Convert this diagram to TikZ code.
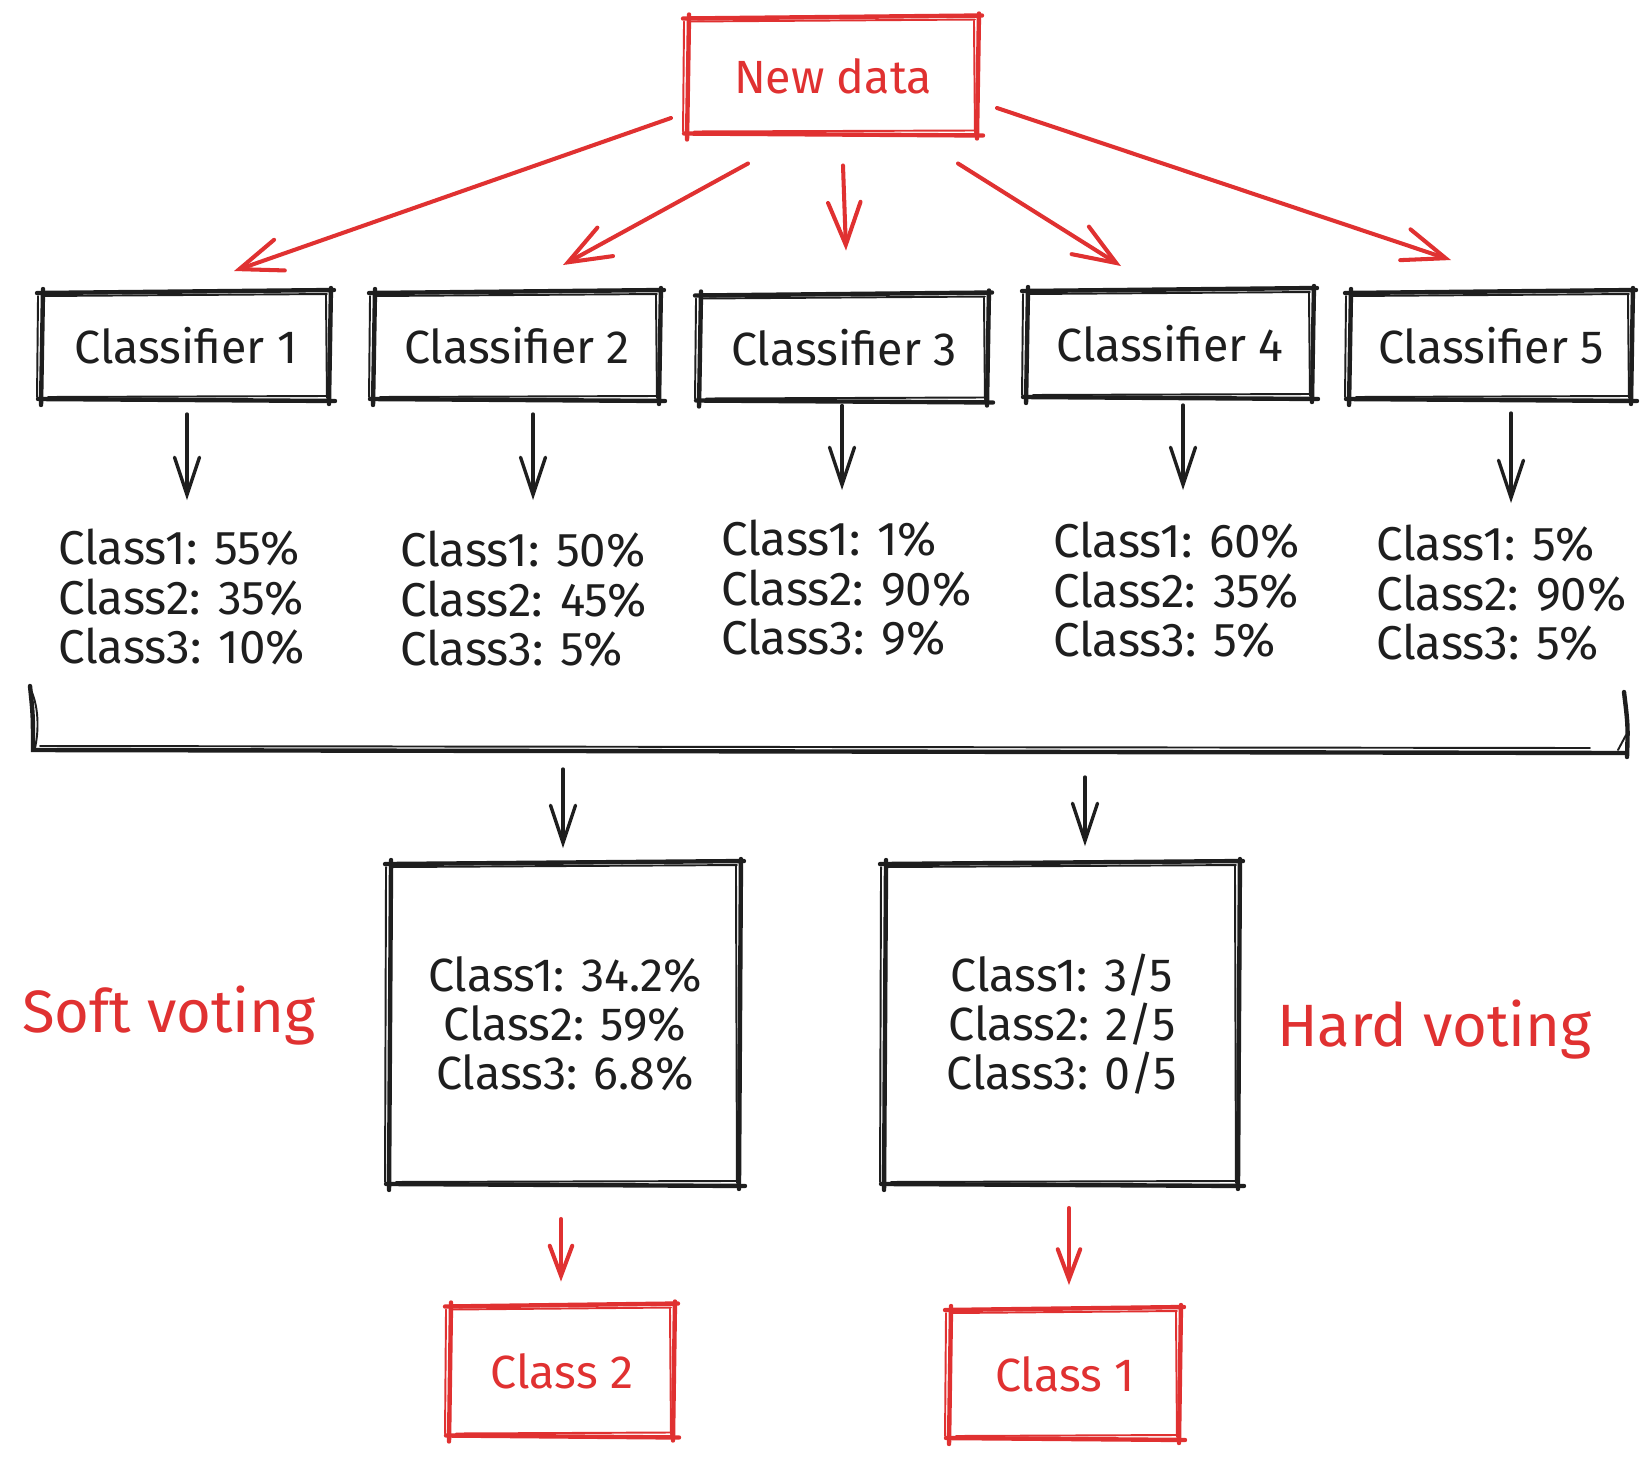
\documentclass[tikz,border=0pt]{standalone}
\usepackage{fontspec}
\setmainfont{Fira Sans}
\usetikzlibrary{arrows.meta,calc}
\definecolor{skred}{HTML}{E03131}
\definecolor{skblack}{HTML}{1E1E1E}
\newcommand{\skbox}[3]{% #1 node, #2 main style, #3 thin style
  \draw[#2] ([shift={(-5,1)}]#1.north west) -- ([shift={(4,-2)}]#1.north east);
  \draw[#2] ([shift={(1,-4)}]#1.north east) -- ([shift={(-1,4)}]#1.south east);
  \draw[#2] ([shift={(5,1)}]#1.south east) -- ([shift={(-4,-1)}]#1.south west);
  \draw[#2] ([shift={(-1,5)}]#1.south west) -- ([shift={(1,-3)}]#1.north west);
  \draw[#3] ([shift={(2,4)}]#1.north west) -- ([shift={(-3,2)}]#1.north east);
  \draw[#3] ([shift={(-4,3)}]#1.north east) -- ([shift={(-3,-2)}]#1.south east);
  \draw[#3] ([shift={(-2,-4)}]#1.south east) -- ([shift={(6,-3)}]#1.south west);
  \draw[#3] ([shift={(-5,-3)}]#1.south west) -- ([shift={(-4,4)}]#1.north west);
}
\begin{document}
\begin{tikzpicture}[x=0.02cm,y=-0.02cm,
  box/.style={rectangle, inner sep=0pt, outer sep=0pt, text=skblack, align=center,
    font=\fontsize{26.5}{27.9}\selectfont},
  rbox/.style={box, text=skred},
  probs/.style={inner sep=0pt, outer sep=0pt, text=skblack, align=left, anchor=west,
    font=\fontsize{27}{28.3}\selectfont},
  vlabel/.style={inner sep=0pt, text=skred, anchor=base west,
    font=\fontsize{34}{36}\selectfont},
  sk/.style={draw=skblack, line width=2.5pt, line cap=round},
  skt/.style={draw=skblack, line width=1.1pt, line cap=round},
  skr/.style={draw=skred, line width=2.5pt, line cap=round},
  skrt/.style={draw=skred, line width=1.1pt, line cap=round},
  barr/.style={draw=skblack, line width=1.9pt, line cap=round,
    -{Straight Barb[length=0.75cm,width=0.5cm,line cap=round]}},
  rarr/.style={draw=skred, line width=2.3pt, line cap=round,
    -{Straight Barb[length=0.85cm,width=0.65cm,line cap=round]}},
  rarrs/.style={draw=skred, line width=2.3pt, line cap=round,
    -{Straight Barb[length=0.6cm,width=0.45cm,line cap=round]}}
]
\useasboundingbox (0,0) rectangle (1651,1458);
\fill[white] (0,0) rectangle (1651,1458);

% top node
\node[rbox, minimum width=5.8cm, minimum height=2.34cm] (nd) at (833,76) {New data};
\skbox{nd}{skr}{skrt}

% classifiers
\node[box, minimum width=5.76cm, minimum height=2.16cm] (c1) at (186,346) {Classifier 1};
\node[box, minimum width=5.72cm, minimum height=2.16cm] (c2) at (517,346) {Classifier 2};
\node[box, minimum width=5.76cm, minimum height=2.14cm] (c3) at (844,348) {Classifier 3};
\node[box, minimum width=5.72cm, minimum height=2.16cm] (c4) at (1170,344) {Classifier 4};
\node[box, minimum width=5.64cm, minimum height=2.16cm] (c5) at (1491,346) {Classifier 5};
\foreach \n in {c1,c2,c3,c4,c5} {\skbox{\n}{sk}{skt}}

% red arrows from new data
\draw[rarr] ([shift={(-17,42)}]nd.west) -- ([shift={(48,-21)}]c1.north);
\draw[rarr] ([shift={(-85,29)}]nd.south) -- ([shift={(46,-27)}]c2.north);
\draw[rarr] ([shift={(10,31)}]nd.south) -- ([shift={(2,-44)}]c3.north);
\draw[rarr] ([shift={(125,29)}]nd.south) -- ([shift={(-49,-24)}]c4.north);
\draw[rarr] ([shift={(19,32)}]nd.east) -- ([shift={(-40,-32)}]c5.north);

% probabilities
\node[probs] (p1) at (58,597) {Class1: 55\%\\Class2: 35\%\\Class3: 10\%};
\node[probs] (p2) at (400,599) {Class1: 50\%\\Class2: 45\%\\Class3: 5\%};
\node[probs] (p3) at (721,588) {Class1: 1\%\\Class2: 90\%\\Class3: 9\%};
\node[probs] (p4) at (1053,590) {Class1: 60\%\\Class2: 35\%\\Class3: 5\%};
\node[probs] (p5) at (1376,593) {Class1: 5\%\\Class2: 90\%\\Class3: 5\%};

% arrows classifier -> probabilities
\coordinate (t1) at (187,500);
\coordinate (t2) at (533,500);
\coordinate (t3) at (842,490);
\coordinate (t4) at (1183,490);
\coordinate (t5) at (1511,503);
\draw[barr] ([shift={(1,14)}]c1.south) -- (t1);
\draw[barr] ([shift={(16,14)}]c2.south) -- (t2);
\draw[barr] ([shift={(-2,4)}]c3.south) -- (t3);
\draw[barr] ([shift={(13,7)}]c4.south) -- (t4);
\draw[barr] ([shift={(20,13)}]c5.south) -- (t5);

% bracket
\draw[sk] (30,686) .. controls (33,715) .. (33,750) -- (1626,753);
\draw[sk] (1624,692) .. controls (1628,725) .. (1627,757);
\draw[skt] (31,690) .. controls (40,710) and (38,735) .. (35,748);
\draw[skt] (40,746) -- (1590,748);
\draw[skt] (1626,735) -- (1618,750);

% voting boxes
\node[box, minimum width=7.0cm, minimum height=6.44cm] (soft) at (565,1024)
  {Class1: 34.2\%\\Class2: 59\%\\Class3: 6.8\%};
\node[box, minimum width=7.08cm, minimum height=6.44cm] (hard) at (1062,1024)
  {Class1: 3/5\\Class2: 2/5\\Class3: 0/5};
\skbox{soft}{sk}{skt}
\skbox{hard}{sk}{skt}

\coordinate (b1) at (563,769);
\coordinate (b2) at (1085,777);
\draw[barr] (b1) -- ([shift={(-2,-15)}]soft.north);
\draw[barr] (b2) -- ([shift={(23,-17)}]hard.north);

\node[vlabel] (sv) at (22,1032) {Soft voting};
\node[vlabel] (hv) at (1277,1046) {Hard voting};

% results
\node[rbox, minimum width=4.48cm, minimum height=2.62cm] (cls2) at (562,1371) {Class 2};
\node[rbox, minimum width=4.6cm, minimum height=2.6cm] (cls1) at (1065,1374) {Class 1};
\skbox{cls2}{skr}{skrt}
\skbox{cls1}{skr}{skrt}
\draw[rarrs] ([shift={(-4,34)}]soft.south) -- ([shift={(-1,-24)}]cls2.north);
\draw[rarrs] ([shift={(7,23)}]hard.south) -- ([shift={(4,-24)}]cls1.north);
\end{tikzpicture}
\end{document}
